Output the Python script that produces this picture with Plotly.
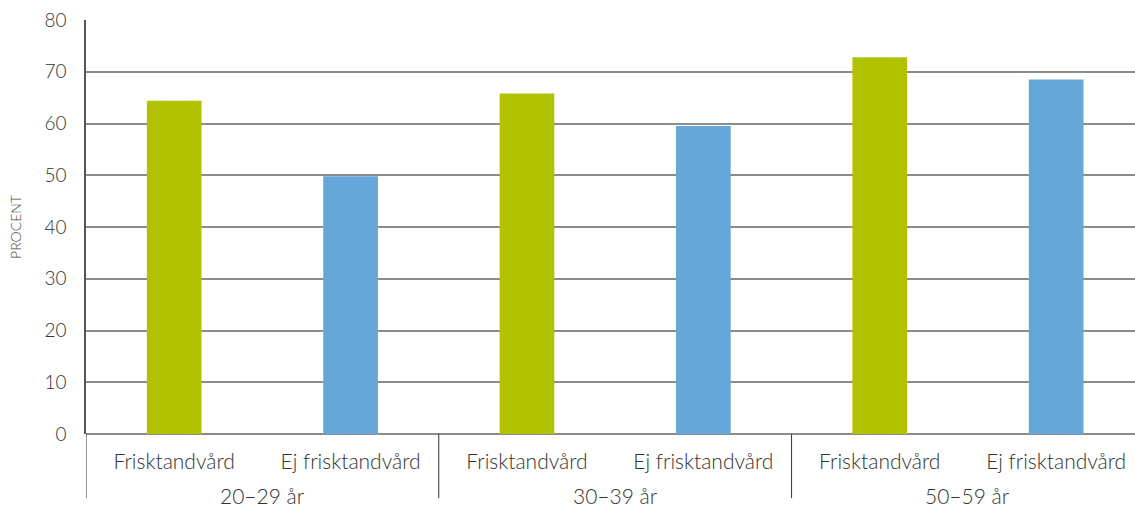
import plotly.graph_objects as go

groups = ["20–29 år", "20–29 år", "30–39 år", "30–39 år", "50–59 år", "50–59 år"]
categories = ["Frisktandvård", "Ej frisktandvård"] * 3
values = [64.4, 49.8, 65.8, 59.5, 72.8, 68.5]
colors = ["#b1c200", "#65a7d9"] * 3

pos = list(range(len(values)))

fig = go.Figure(go.Bar(
    x=pos,
    y=values,
    marker=dict(color=colors, line=dict(width=0)),
    width=0.31,
    hovertext=[f"{g} {c}" for g, c in zip(groups, categories)],
))

# group spans derived from the groups list
spans = []
for i, g in enumerate(groups):
    if spans and spans[-1][0] == g:
        spans[-1][2] = i
    else:
        spans.append([g, i, i])

txtcol = "#333333"
for g, a, b in spans:
    fig.add_annotation(
        x=(a + b) / 2, y=-0.148, xref="x", yref="paper",
        text=g, showarrow=False, yanchor="middle",
        font=dict(size=21, family="Lato", color=txtcol, weight=300),
    )
    fig.add_shape(
        type="line", xref="x", yref="paper",
        x0=a - 0.5, x1=a - 0.5, y0=0, y1=-0.155,
        line=dict(color="#333333", width=1),
    )

fig.update_layout(
    width=1135, height=509,
    margin=dict(l=86, r=0, t=20, b=75),
    plot_bgcolor="white", paper_bgcolor="white",
    font=dict(family="Lato", color=txtcol, weight=300),
    showlegend=False,
)
fig.update_xaxes(
    range=[-0.5, 5.447],
    tickmode="array", tickvals=pos, ticktext=categories,
    tickfont=dict(size=21, family="Lato", color=txtcol, weight=300),
    showline=False, showgrid=False, zeroline=False,
    ticks="outside", ticklen=9, tickcolor="rgba(0,0,0,0)",
)
fig.update_yaxes(
    range=[0, 80], dtick=10,
    showgrid=True, gridcolor="#8c8c8c", gridwidth=1.5,
    showline=True, linecolor="#555555", linewidth=1.5,
    zeroline=True, zerolinecolor="#8c8c8c", zerolinewidth=1.5,
    tickfont=dict(size=19, family="Lato", color=txtcol, weight=300),
    ticklabelstandoff=14,
    title=dict(text="PROCENT", font=dict(size=14, family="Lato", color="#444444", weight=300), standoff=20),
)
fig.write_html("out.html")
